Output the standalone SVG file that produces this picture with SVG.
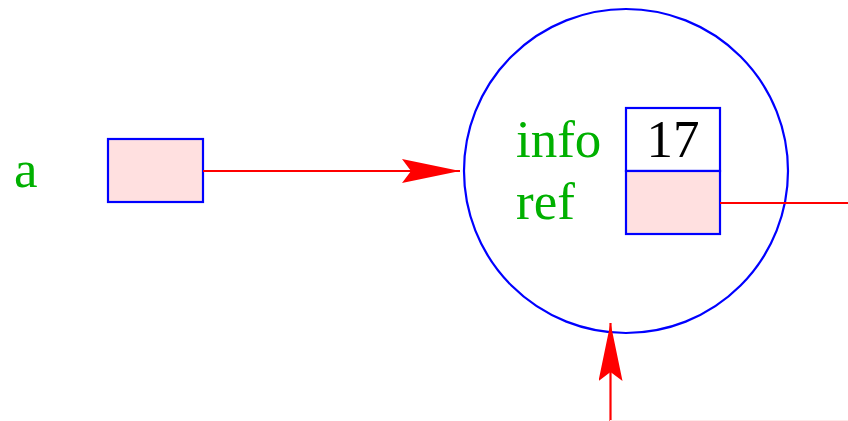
<svg xmlns="http://www.w3.org/2000/svg" width="848" height="421" viewBox="0 0 848 421">
<style>
.lbl{font-family:"Liberation Serif",serif;font-size:53px;fill:#00b000}
.num{font-family:"Liberation Serif",serif;font-size:53px;fill:#000}
.box{fill:#ffe0e0;stroke:#0000ff;stroke-width:2.2}
.edge{stroke:#ff0000;stroke-width:2.2;fill:none}
</style>
<defs>
<marker id="ah" markerUnits="userSpaceOnUse" markerWidth="60" markerHeight="30" viewBox="0 0 60 30" refX="58" refY="12" orient="auto">
<path d="M58,12 L0,0 L9,12 L0,24 Z" fill="#ff0000"/>
</marker>
</defs>
<g id="node-a">
<text class="lbl" x="14" y="187">a</text>
<rect class="box" x="108" y="139" width="95" height="63"/>
</g>
<g id="node-cell">
<circle cx="626" cy="171" r="162" fill="none" stroke="#0000ff" stroke-width="2.2"/>
<text class="lbl" x="516" y="157">info</text>
<text class="lbl" x="516" y="219">ref</text>
<rect x="626" y="108" width="94" height="63" fill="#fff" stroke="#0000ff" stroke-width="2.2"/>
<text class="num" x="673" y="157" text-anchor="middle">17</text>
<rect class="box" x="626" y="171" width="94" height="63"/>
</g>
<g id="connectors">
<line class="edge" x1="203" y1="171" x2="460" y2="171" marker-end="url(#ah)"/>
<line class="edge" x1="720" y1="203" x2="848" y2="203"/>
<line class="edge" x1="610.5" y1="421" x2="610.5" y2="323" marker-end="url(#ah)"/>
<line x1="610" y1="420.5" x2="848" y2="420.5" stroke="#ffe8e8" stroke-width="1"/>
</g>
</svg>
